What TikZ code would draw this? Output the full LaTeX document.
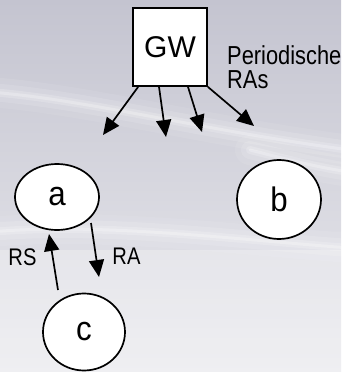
\documentclass[tikz,border=0pt]{standalone}
\usepackage{fontspec}
\setmainfont{Liberation Sans}
\newfontfamily\condfont[FakeStretch=0.84]{Liberation Sans}
\newfontfamily\labfont[FakeStretch=0.92]{Liberation Sans}
\usetikzlibrary{arrows.meta,calc,shapes.geometric}
\definecolor{bgtop}{RGB}{196,196,208}
\definecolor{bgmid}{RGB}{204,204,212}
\definecolor{bgbot}{RGB}{234,234,238}
\tikzset{
  arr/.style={line width=1.7pt,-{Triangle[length=17pt,width=15pt]}},
  gwbox/.style={draw,fill=white,line width=1.7pt,minimum width=74pt,minimum height=78pt,inner sep=0pt,font=\fontsize{30}{32}\selectfont},
  host/.style={ellipse,draw,fill=white,line width=1.7pt,inner sep=0pt,font=\labfont\fontsize{34}{36}\selectfont},
  lbl/.style={inner sep=0pt,font=\condfont\fontsize{24}{26}\selectfont},
  swoosh/.style={white,line cap=round}
}
\begin{document}
\begin{tikzpicture}[x=1pt,y=-1pt]
\useasboundingbox (0,0) rectangle (341,372);
\shade[top color=bgtop,middle color=bgmid,bottom color=bgbot] (0,0) rectangle (341,372);
% background swooshes
\foreach \w/\o in {30/0.08,18/0.12,8/0.18,3/0.25}{
  \draw[swoosh,line width=\w pt,opacity=\o] (-10,92) .. controls (90,100) and (200,130) .. (350,150);
  \draw[swoosh,line width=\w pt,opacity=\o] (-10,232) .. controls (100,222) and (240,240) .. (350,248);
  \draw[swoosh,line width=\w pt,opacity=\o] (250,150) .. controls (290,160) and (320,168) .. (350,172);
}
\fill[white,opacity=0.25] (0,250) rectangle (341,372);
% nodes
\node[gwbox] (gw) at (170,47) {GW};
\node[host,minimum width=84pt,minimum height=66pt] (a) at (57,197) {a};
\node[host,minimum width=84pt,minimum height=79pt] (b) at (279,199.5) {b};
\node[host,minimum width=82pt,minimum height=77pt] (c) at (84,332) {c};
\node[lbl,anchor=base west,font=\condfont\fontsize{26}{24}\selectfont,align=left] (per) at (227,88) {Periodische\\RAs};
\node[lbl] (rs) at (22.5,257) {RS};
\node[lbl] (ra) at (126.5,256.5) {RA};
% free ends of the periodic RAs
\coordinate (e1) at (103,135);
\coordinate (e2) at (166,137);
\coordinate (e3) at (202,132);
\coordinate (e4) at (254,126);
\draw[arr] ($(gw.south west)+(6,0)$) -- (e1);
\draw[arr] ($(gw.south)+(-11,0)$) -- (e2);
\draw[arr] ($(gw.south)+(18,0)$) -- (e3);
\draw[arr] (gw.south east) -- (e4);
\draw[arr] ($(c.center)+(-26,-42)$) -- ($(a.center)+(-8,37)$);
\draw[arr] ($(a.center)+(34,26)$) -- ($(c.center)+(15,-55)$);
\end{tikzpicture}
\end{document}
